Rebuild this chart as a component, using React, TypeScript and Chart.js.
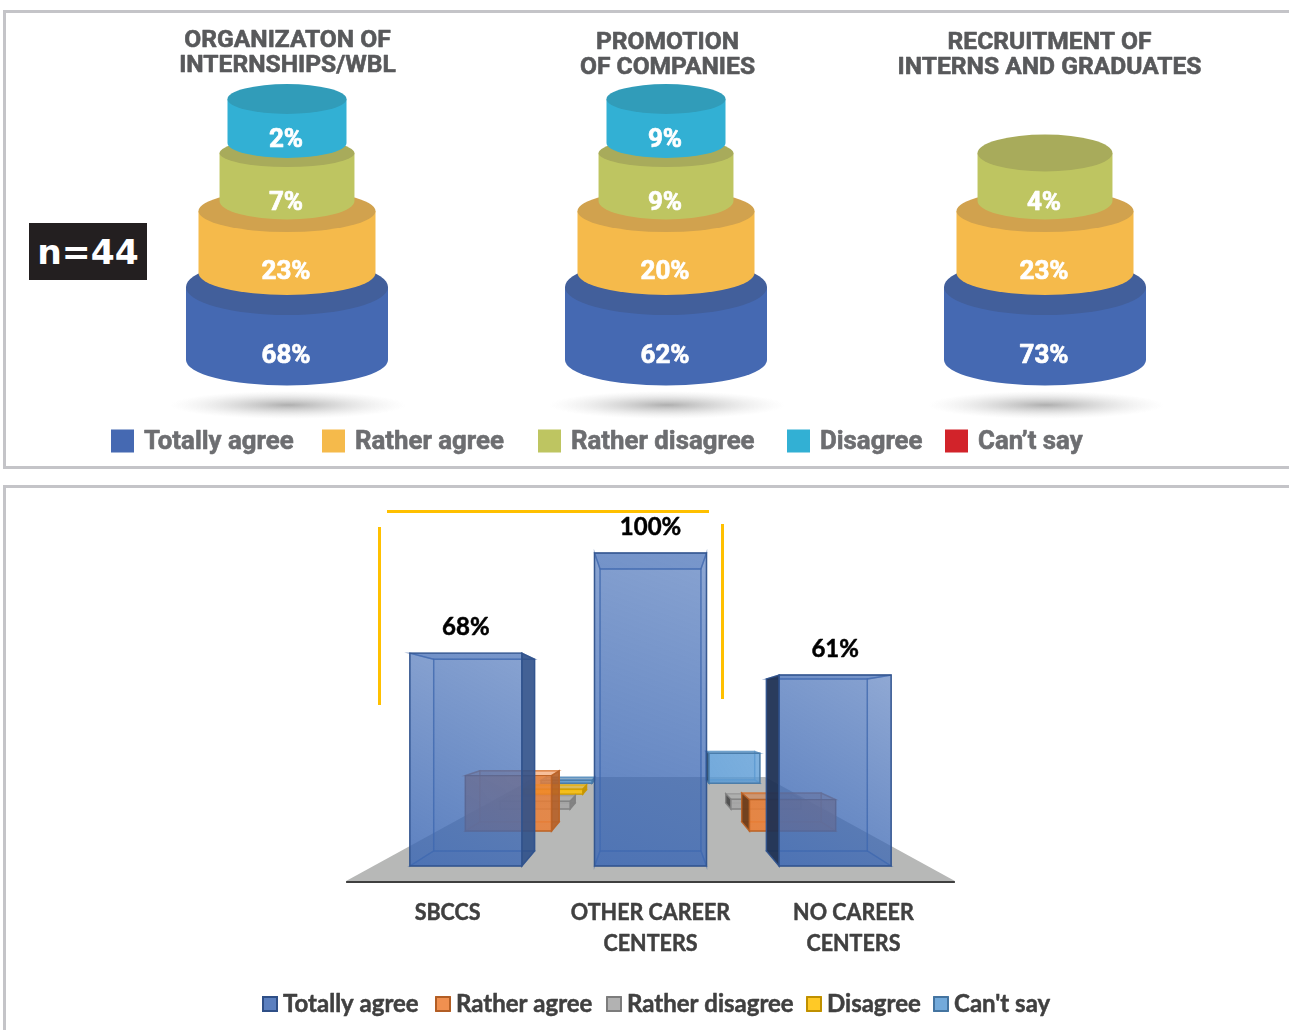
import React, { useEffect, useRef } from "react";
import { Chart, registerables } from "chart.js";

Chart.register(...registerables);

// Upper panel: share of answers per activity
const activities = ["ORGANIZATON OF\nINTERNSHIPS/WBL", "PROMOTION\nOF COMPANIES", "RECRUITMENT OF\nINTERNS AND GRADUATES"];
const tierAnswers = ["Totally agree", "Rather agree", "Rather disagree", "Disagree", "Can\u2019t say"];
const totallyAgree = [68, 62, 73];
const ratherAgree = [23, 20, 23];
const ratherDisagree = [7, 9, 4];
const disagree = [2, 9, 0];
const cantSay = [0, 0, 0];

// Lower panel: "totally agree" and the other answers per type of centre
const centres = ["SBCCS", "OTHER CAREER\nCENTERS", "NO CAREER\nCENTERS"];
const columnAnswers = ["Totally agree", "Rather agree", "Rather disagree", "Disagree", "Can't say"];
const columnValues = [
  [68, 100, 61],
  [23, 0, 13],
  [4, 0, 5],
  [3, 0, 0],
  [2, 0, 21],
];

const tierBody = ["#4569B2", "#F5BA4B", "#BEC561", "#32B0D4", "#D2232A"];
const tierCap = ["#425F9B", "#D1A24E", "#A8AB5B", "#319CB9", "#A81C22"];
const tierWidth = [0.533, 0.467, 0.356, 0.314, 0.3];
const tierBottomRy = [25.5, 22, 18.5, 15, 15];
const tierCapRy = [28, 21, 14, 15, 15];
const tierCapLift = [14, 10, 10, 14, 14];
const tierLabelShift = [-4, -1, 2, -3, 0];

const columnRgb = [
  [62, 105, 180],
  [237, 125, 49],
  [165, 165, 165],
  [255, 192, 0],
  [91, 155, 213],
];

// Tiers are stepped rather than proportional: a band is chosen from the share it shows.
const tierBand = (share: number) => (share >= 50 ? 87 : share >= 15 ? 72 : share > 0 ? 58 : 0);

type LegendCfg = { starts: number[]; y: number; textDy: number; box: number; textGap: number; font: string; color: string; weight: number };

const heavyText = (ctx: any, text: string, x: number, y: number, weight: number) => {
  ctx.fillText(text, x, y);
  if (weight > 0) {
    ctx.lineWidth = weight;
    ctx.lineJoin = "round";
    ctx.strokeStyle = ctx.fillStyle;
    ctx.strokeText(text, x, y);
  }
};

const drawKey = (chart: any, cfg: LegendCfg, swatch: (ctx: any, i: number, x: number, y: number) => void) => {
  const ctx = chart.ctx;
  ctx.save();
  ctx.font = cfg.font;
  ctx.textBaseline = "middle";
  ctx.textAlign = "left";
  chart.data.datasets.forEach((ds: any, i: number) => {
    const x = cfg.starts[i];
    swatch(ctx, i, x, cfg.y - cfg.box / 2);
    ctx.fillStyle = cfg.color;
    heavyText(ctx, ds.label, x + cfg.box + cfg.textGap, cfg.y + cfg.textDy, cfg.weight);
  });
  ctx.restore();
};

const cylinderPlugin = {
  id: "cylinders",
  beforeDatasetDraw: () => false,
  afterDraw(chart: any) {
    const ctx = chart.ctx;
    const baseline = chart.scales.y.getPixelForValue(0);
    ctx.save();

    chart.scales.x.ticks.forEach((_: any, col: number) => {
      const cx = chart.scales.x.getPixelForTick(col);
      // Soft contact shadow below each stack
      ctx.save();
      ctx.translate(cx + 1, baseline + 45);
      ctx.scale(1, 14 / 118);
      const g = ctx.createRadialGradient(0, 0, 0, 0, 0, 118);
      g.addColorStop(0, "rgba(120,120,120,0.6)");
      g.addColorStop(0.45, "rgba(150,150,150,0.32)");
      g.addColorStop(1, "rgba(200,200,200,0)");
      ctx.fillStyle = g;
      ctx.beginPath();
      ctx.arc(0, 0, 118, 0, Math.PI * 2);
      ctx.fill();
      ctx.restore();

      chart.data.datasets.forEach((ds: any, i: number) => {
        const bar = chart.getDatasetMeta(i).data[col];
        const share = ds.shares[col];
        if (!share) return;
        const rx = bar.width / 2;
        const nextShare = chart.data.datasets[i + 1]?.shares[col];
        const capRy = nextShare || i === 3 ? tierCapRy[i] : 18.5;
        const capY = bar.y + tierCapLift[i];
        ctx.fillStyle = tierBody[i];
        ctx.beginPath();
        ctx.moveTo(bar.x - rx, capY);
        ctx.lineTo(bar.x - rx, bar.base);
        ctx.ellipse(bar.x, bar.base, rx, tierBottomRy[i], 0, Math.PI, 0, true);
        ctx.lineTo(bar.x + rx, capY);
        ctx.closePath();
        ctx.fill();
        ctx.fillStyle = tierCap[i];
        ctx.beginPath();
        ctx.ellipse(bar.x, capY, rx, capRy, 0, 0, Math.PI * 2);
        ctx.fill();
      });

      chart.data.datasets.forEach((ds: any, i: number) => {
        const bar = chart.getDatasetMeta(i).data[col];
        const share = ds.shares[col];
        if (!share) return;
        ctx.fillStyle = "#FFFFFF";
        ctx.font = "700 26px Roboto";
        ctx.textAlign = "center";
        ctx.textBaseline = "middle";
        heavyText(ctx, `${share}%`, bar.x - 1, bar.base + tierLabelShift[i], 0.7);
      });
    });

    // Headings sit above the stacks, nudged like the original layout
    const nudgeX = [0.5, 1.5, 4.5];
    const firstLine = [41, 43, 43];
    ctx.fillStyle = "#58595B";
    ctx.font = "700 24.6px Roboto";
    ctx.textAlign = "center";
    ctx.textBaseline = "middle";
    chart.data.labels.forEach((label: string, col: number) => {
      const cx = chart.scales.x.getPixelForTick(col) + nudgeX[col];
      label.split("\n").forEach((line, n) => heavyText(ctx, line, cx, firstLine[col] + n * 24.5, 0.6));
    });
    ctx.restore();

    drawKey(
      chart,
      {
        starts: [111, 322, 538, 787, 945],
        y: 441,
        textDy: 2,
        box: 23,
        textGap: 10,
        font: "700 25.8px Roboto",
        color: "#6D6E71",
        weight: 0.6,
      },
      (c, i, x, y) => {
        c.fillStyle = tierBody[i];
        c.fillRect(x, y, 23, 23);
      }
    );
  },
};

// Perspective: every box recedes towards one vanishing point
const VANISH_LEVEL = 48.5;
const SERIES_STEP = 0.3;
const BOX_DEPTH = 0.11;
const FLOOR_NEAR = -0.09;
const FLOOR_FAR = 1.415;

const prismPlugin = {
  id: "prisms",
  beforeDatasetDraw: () => false,
  afterDraw(chart: any) {
    const ctx = chart.ctx;
    const { left, right } = chart.chartArea;
    const vx = (left + right) / 2;
    const vy = chart.scales.y.getPixelForValue(VANISH_LEVEL);
    const floorY = chart.scales.y.getPixelForValue(0);
    const project = (x: number, y: number, z: number) => {
      const s = 1 / (1 + z);
      return [vx + s * (x - vx), vy + s * (y - vy)];
    };
    const poly = (pts: number[][], fill: any, stroke?: string) => {
      ctx.beginPath();
      pts.forEach((p, i) => (i ? ctx.lineTo(p[0], p[1]) : ctx.moveTo(p[0], p[1])));
      ctx.closePath();
      ctx.fillStyle = fill;
      ctx.fill();
      if (stroke) {
        ctx.strokeStyle = stroke;
        ctx.stroke();
      }
    };

    ctx.save();
    poly(
      [
        project(left, floorY, FLOOR_NEAR),
        project(right, floorY, FLOOR_NEAR),
        project(right, floorY, FLOOR_FAR),
        project(left, floorY, FLOOR_FAR),
      ],
      "#B7B8B7"
    );
    const edge = project(left, floorY, FLOOR_NEAR);
    const edgeEnd = project(right, floorY, FLOOR_NEAR);
    ctx.strokeStyle = "#3F3F3F";
    ctx.lineWidth = 2;
    ctx.beginPath();
    ctx.moveTo(edge[0], edge[1] + 1);
    ctx.lineTo(edgeEnd[0], edgeEnd[1] + 1);
    ctx.stroke();

    for (let i = chart.data.datasets.length - 1; i >= 0; i--) {
      const [r, g, b] = columnRgb[i];
      const rgba = (a: number, k = 1) => `rgba(${Math.round(r * k)},${Math.round(g * k)},${Math.round(b * k)},${a})`;
      const line = rgba(0.9, 0.78);
      ctx.lineWidth = 1.4;
      chart.getDatasetMeta(i).data.forEach((bar: any, col: number) => {
        if (!chart.data.datasets[i].data[col]) return;
        const zf = i * SERIES_STEP;
        const zb = zf + BOX_DEPTH;
        const L = bar.x - bar.width / 2;
        const R = bar.x + bar.width / 2;
        const T = bar.y;
        const B = bar.base;
        const fLT = project(L, T, zf);
        const fRT = project(R, T, zf);
        const fRB = project(R, B, zf);
        const fLB = project(L, B, zf);
        const bLT = project(L, T, zb);
        const bRT = project(R, T, zb);
        const bRB = project(R, B, zb);
        const bLB = project(L, B, zb);

        poly([bLT, bRT, bRB, bLB], rgba(0.2), rgba(0.5, 0.9));
        poly([fLB, fRB, bRB, bLB], rgba(0.28), rgba(0.5, 0.9));
        const rightOuter = bRB[0] > fRB[0];
        const leftOuter = bLB[0] < fLB[0];
        if (!leftOuter) poly([fLT, bLT, bLB, fLB], rgba(0.12), rgba(0.5, 0.9));
        if (!rightOuter) poly([fRT, bRT, bRB, fRB], rgba(0.12), rgba(0.5, 0.9));
        poly([fLT, fRT, bRT, bLT], rgba(0.36), rgba(0.55, 0.9));
        if (rightOuter) poly([fRT, bRT, bRB, fRB], rgba(0.88, 0.76), line);
        if (leftOuter) poly([fLT, bLT, bLB, fLB], rgba(0.92, 0.45), line);
        const grad = ctx.createLinearGradient(fLB[0], fLB[1], fRT[0], fRT[1]);
        grad.addColorStop(0, rgba(0.82));
        grad.addColorStop(1, rgba(i === 0 ? 0.52 : 0.74));
        poly([fLT, fRT, fRB, fLB], grad, line);
      });
    }

    // Figures over the leading series
    ctx.fillStyle = "#000000";
    ctx.font = "700 24px Lato";
    ctx.textAlign = "center";
    ctx.textBaseline = "middle";
    chart.getDatasetMeta(0).data.forEach((bar: any, col: number) => {
      heavyText(ctx, `${chart.data.datasets[0].data[col]}%`, bar.x, bar.y - 26, 0.5);
    });

    // Category names sit on the near edge of the floor, set slightly condensed
    ctx.fillStyle = "#404040";
    ctx.font = "700 23px Lato";
    chart.data.labels.forEach((label: string, col: number) => {
      const tick = chart.scales.x.getPixelForTick(col);
      const nearX = project(tick, floorY, FLOOR_NEAR)[0];
      label.split("\n").forEach((text, n) => {
        ctx.save();
        ctx.translate(nearX, floorY + 47 + n * 31);
        ctx.scale(0.935, 1);
        heavyText(ctx, text, 0, 0, 0.5);
        ctx.restore();
      });
    });
    ctx.restore();

    drawKey(
      chart,
      {
        starts: [262, 435, 606, 806, 933],
        y: 534,
        textDy: 0,
        box: 16,
        textGap: 5,
        font: "700 24px Lato",
        color: "#404040",
        weight: 0.5,
      },
      (c, i, x, y) => {
        const [r, g, b] = columnRgb[i];
        c.fillStyle = `rgba(${r},${g},${b},0.85)`;
        c.fillRect(x, y, 16, 16);
        c.strokeStyle = `rgb(${Math.round(r * 0.75)},${Math.round(g * 0.75)},${Math.round(b * 0.75)})`;
        c.lineWidth = 2;
        c.strokeRect(x + 1, y + 1, 14, 14);
      }
    );
  },
};

const hiddenAxes = (max: number, stacked: boolean) => ({
  x: { display: false, stacked, grid: { display: false } },
  y: { display: false, stacked, min: 0, max, grid: { display: false } },
});

const plainPlugins = { legend: { display: false }, tooltip: { enabled: false } };

const tierSeries = [totallyAgree, ratherAgree, ratherDisagree, disagree, cantSay];

const stroke = (left: number, top: number, width: number, height: number): React.CSSProperties => ({
  position: "absolute",
  left,
  top,
  width,
  height,
  background: "#FFC000",
});

const panel = (top: number, height: number): React.CSSProperties => ({
  position: "absolute",
  left: 3,
  top,
  width: 1400,
  height,
  border: "3px solid #C4C4C8",
  boxSizing: "border-box",
});

export default function App() {
  const upper = useRef<HTMLCanvasElement>(null);
  const lower = useRef<HTMLCanvasElement>(null);

  useEffect(() => {
    document.body.style.margin = "0";
    const top = new Chart(upper.current as HTMLCanvasElement, {
      type: "bar",
      data: {
        labels: activities,
        datasets: tierSeries.map((shares, i) => ({
          label: tierAnswers[i],
          data: shares.map(tierBand),
          shares,
          backgroundColor: tierBody[i],
          barPercentage: tierWidth[i],
          categoryPercentage: 1,
        })) as any,
      },
      options: {
        responsive: false,
        animation: false,
        layout: { padding: { left: 97.5, right: 54.5, top: 85, bottom: 110 } },
        scales: hiddenAxes(275, true) as any,
        plugins: plainPlugins as any,
      },
      plugins: [cylinderPlugin as any],
    });
    const bottom = new Chart(lower.current as HTMLCanvasElement, {
      type: "bar",
      data: {
        labels: centres,
        datasets: columnValues.map((data, i) => ({
          label: columnAnswers[i],
          data,
          backgroundColor: `rgb(${columnRgb[i].join(",")})`,
          grouped: false,
          barPercentage: 0.6065,
          categoryPercentage: 1,
        })) as any,
      },
      options: {
        responsive: false,
        animation: false,
        layout: { padding: { left: 373.5, right: 361.5, top: 83, bottom: 164 } },
        scales: hiddenAxes(100, false) as any,
        plugins: plainPlugins as any,
      },
      plugins: [prismPlugin as any],
    });
    return () => {
      top.destroy();
      bottom.destroy();
    };
  }, []);

  return (
    <div style={{ position: "absolute", left: 0, top: 0, width: 1289, height: 1030, overflow: "hidden", background: "#fff" }}>
      <div style={panel(10, 459)} />
      <div style={panel(485, 700)} />
      <canvas ref={upper} width={1289} height={470} style={{ position: "absolute", left: 0, top: 0 }} />
      <canvas ref={lower} width={1289} height={560} style={{ position: "absolute", left: 0, top: 470 }} />
      <div
        style={{
          position: "absolute",
          left: 29,
          top: 223,
          width: 118,
          height: 57,
          background: "#231F20",
          color: "#fff",
          font: "700 34.5px 'DejaVu Sans'",
          display: "flex",
          alignItems: "center",
          justifyContent: "center",
        }}
      >
        n=44
      </div>
      <div style={stroke(387, 510, 322, 3)} />
      <div style={stroke(378, 527, 3, 178)} />
      <div style={stroke(721, 524, 3, 175)} />
    </div>
  );
}
